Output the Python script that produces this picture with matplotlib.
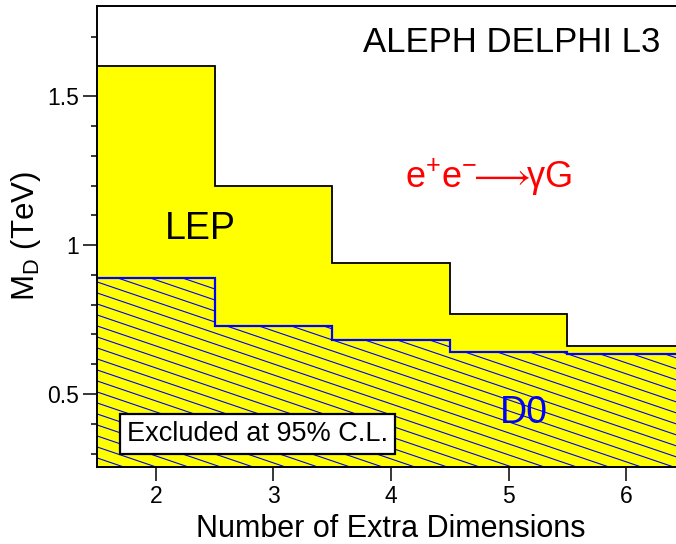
import numpy as np
import matplotlib
matplotlib.use('Agg')
import matplotlib.pyplot as plt
from matplotlib.ticker import FixedLocator, FuncFormatter

plt.rcParams['font.family'] = ['Liberation Sans', 'DejaVu Sans']
plt.rcParams['mathtext.fontset'] = 'custom'
plt.rcParams['mathtext.rm'] = 'Liberation Sans'
plt.rcParams['mathtext.it'] = 'Liberation Sans:italic'
plt.rcParams['mathtext.default'] = 'regular'
plt.rcParams['mathtext.fallback'] = 'stixsans'

# data
n_edges = [1.5, 2.5, 3.5, 4.5, 5.5, 6.5]
n_dims = [2, 3, 4, 5, 6]
lep_limit = [1.60, 1.20, 0.94, 0.77, 0.66]
d0_limit = [0.89, 0.73, 0.68, 0.64, 0.633]
y_lo, y_hi = 0.255, 1.803

W, H = 676, 544
fig = plt.figure(figsize=(W / 100, H / 100), dpi=100)
ax_l, ax_r, ax_t, ax_b = 97, 685, 6, 467
ax = fig.add_axes([ax_l / W, 1 - ax_b / H, (ax_r - ax_l) / W, (ax_b - ax_t) / H])

# LEP region (yellow, black outline)
ax.stairs(lep_limit, n_edges, baseline=y_lo, fill=True, color='#ffff00', zorder=1)
ax.stairs(lep_limit, n_edges, baseline=None, color='black', lw=1.3, zorder=3)

# D0 region: hatched with shallow blue lines
d0_fill = ax.stairs(d0_limit, n_edges, baseline=y_lo, fill=True, color='#ffff00', zorder=2)
ax.stairs(d0_limit, n_edges, baseline=None, color='#0000ff', lw=1.6, zorder=4)

ax.set_xlim(n_edges[0], n_edges[-1])
ax.set_ylim(y_lo, y_hi)

# hatch lines in pixel space, slope ~ -0.34, spacing ~11 px vertically
pw, ph = ax_r - ax_l, ax_b - ax_t
slope = 0.34
for c in np.arange(-pw * slope, ph + 20, 11.0):
    xs = np.array([0, pw])
    ys = c - slope * xs
    ln, = ax.plot(xs / pw, ys / ph, color='#0000ff', lw=0.8,
                  transform=ax.transAxes, zorder=2.5)
    ln.set_clip_path(d0_fill)

# texts
ax.text(3.76, 1.648, 'ALEPH DELPHI L3', fontsize=25, ha='left', va='baseline', zorder=6)
ax.text(2.078, 1.022, 'LEP', fontsize=27, ha='left', va='baseline', zorder=6)
ax.text(4.12, 1.194, r'e$^{+}$e$^{-}\!\!\longrightarrow\!\!\gamma$G', fontsize=26,
        color='#ff0000', ha='left', va='baseline', zorder=6)
ax.text(4.93, 0.402, 'D0', fontsize=27, color='#0000ff', ha='left', va='baseline', zorder=6)
ax.text(1.755, 0.342, 'Excluded at 95% C.L.', fontsize=19.5, ha='left', va='baseline', zorder=6,
        bbox=dict(boxstyle='square,pad=0.25', fc='white', ec='black', lw=1.6))

# axes styling
ax.xaxis.set_major_locator(FixedLocator(n_dims))
ax.yaxis.set_major_locator(FixedLocator([0.5, 1.0, 1.5]))
ax.yaxis.set_minor_locator(FixedLocator([0.3, 0.4, 0.6, 0.7, 0.8, 0.9, 1.1, 1.2, 1.3, 1.4, 1.7]))
ax.yaxis.set_major_formatter(FuncFormatter(lambda v, p: f'{v:g}'))
ax.tick_params(which='major', direction='out', length=10, width=1.1, labelsize=16.5, pad=3)
ax.tick_params(which='minor', direction='out', length=4.5, width=1.1)
ax.tick_params(top=False, right=False)
for s in ax.spines.values():
    s.set_linewidth(1.4)
    s.set_zorder(7)

ax.set_xlabel('Number of Extra Dimensions', fontsize=22, labelpad=4)
ax.set_ylabel('M$_{D}$ (TeV)', fontsize=22.5, labelpad=3)

fig.savefig('out.png', dpi=100)
